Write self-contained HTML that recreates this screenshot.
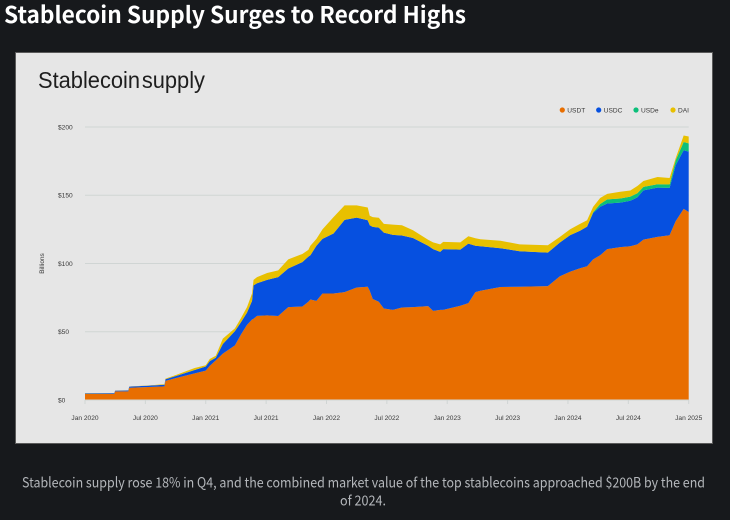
<!DOCTYPE html>
<html lang="en">
<head>
<meta charset="utf-8">
<title>Stablecoin Supply Surges to Record Highs</title>
<style>
html,body{margin:0;padding:0;background:#17191c;width:730px;height:520px;overflow:hidden}
svg{display:block;font-family:"Liberation Sans",sans-serif}
.ui{font-family:"Liberation Sans","Noto Sans CJK JP",sans-serif}
.noto{font-family:"Noto Sans CJK JP","Liberation Sans",sans-serif}
</style>
</head>
<body>
<svg id="root" width="730" height="520" viewBox="0 0 730 520" xmlns="http://www.w3.org/2000/svg">
  <rect x="0" y="0" width="730" height="520" fill="#17191c"/>
  <text class="noto" x="4" y="23" font-size="23" font-weight="700" fill="#ffffff" textLength="462" lengthAdjust="spacingAndGlyphs">Stablecoin Supply Surges to Record Highs</text>
  <rect x="15.5" y="52.5" width="697" height="391" fill="#e6e6e6" stroke="#5a5a5a" stroke-width="1"/>
  <text x="38" y="88" font-size="23" fill="#1e1e1e" style="word-spacing:-4.5px" textLength="167" lengthAdjust="spacingAndGlyphs">Stablecoin supply</text>
  <text transform="translate(44,263.5) rotate(-90)" text-anchor="middle" font-size="6.5" fill="#3a3a3a">Billions</text>
  <g id="grid"></g>
  <g id="areas"></g>
  <g id="axes"></g>
  <g id="legend"></g>
  <text class="noto" x="22" y="487.5" font-size="14" fill="#b4b7bb" textLength="683" lengthAdjust="spacingAndGlyphs">Stablecoin supply rose 18% in Q4, and the combined market value of the top stablecoins approached $200B by the end</text>
  <text class="noto" x="340" y="505.5" font-size="14" fill="#b4b7bb" textLength="46" lengthAdjust="spacingAndGlyphs">of 2024.</text>
</svg>
<script>
// Months since Jan 2020
const months = [0,2.9,3,4.3,4.4,6.6,7.9,8,9,10.9,12,12.4,13,13.7,14.9,15.5,16.1,16.6,16.75,17.1,18.1,19.2,20.2,21.6,22.2,22.4,23,23.6,24.7,25.8,27,28.1,28.3,28.6,29.2,29.7,30.6,31.5,32.6,34.1,34.6,35.3,35.6,37.3,38.1,38.8,39.3,41.3,43.2,46,47.2,48.2,49.2,49.9,50.5,51.2,51.9,53.2,54.2,54.9,55.5,56.9,58.1,58.7,59.5,60];
// Supply per coin, $ billions
const usdt = [4.4,4.4,6.3,6.3,9,9.6,10,14,16,19.5,21.5,25,29,34,40,48,55,59,59.5,61.6,62,61.5,68,68.5,72,73.6,72.6,78,78,79,82.4,83,80,74,72,67,66,67.8,68,68.8,65.3,66,66,69,71,79,80,82.8,83,83.4,90.7,94,96.5,98,103,106,110.5,112,112.6,114,117.5,119.5,120.7,131,140,137.7];
const usdc = [0.4,0.5,0.6,0.7,0.8,1,1.2,1.2,1.5,2.5,3,3.5,2,7,10.5,9,9,13.5,24.5,23.9,26,28.5,28.3,32.5,33,32.4,40.4,40,44,53,51.2,48.7,48,52.8,54.3,55.6,55,52.7,50.7,44.2,45.2,42.5,44.5,41.2,43.6,34,32.6,28.4,26,24.6,24.7,26.7,27.5,29,34,35.6,33.5,32.6,33.4,34.5,36.1,36.1,34.7,41,43,44.3];
const usde = [0,0,0,0,0,0,0,0,0,0,0,0,0,0,0,0,0,0,0,0,0,0,0,0,0,0,0,0,0,0,0,0,0,0,0,0,0,0,0,0,0,0,0,0,0,0,0,0,0,0,0,0,0,0,0.5,2,3,3,3,3,2.5,2.5,2.5,3.5,6,6];
const dai = [0.1,0.1,0.1,0.1,0.1,0.2,0.4,0.5,0.7,1.4,1,1.5,1.4,4,2,3,4,5.5,4,4.5,5,5,6.7,6,5,7,5,7,12,10.6,9,9.3,7,7.2,7.2,6.4,7.5,7.5,5.7,4.4,5,5.5,5.3,5.3,5.4,5.5,5.2,5.5,5,5.4,4.1,4.3,5,4.7,4,4.4,4,5,4.5,5.3,4.3,5.3,4.7,1.5,4.8,5];
const seriesNames = ["USDT","USDC","USDe","DAI"];
const seriesColors = ["#e86e00","#0650e0","#0cbf7a","#e8c000"];
const yTicks = [0,50,100,150,200];
const yTickLabels = ["$0","$50","$100","$150","$200"];
const xTicks = [0,6,12,18,24,30,36,42,48,54,60];
const xTickLabels = ["Jan 2020","Jul 2020","Jan 2021","Jul 2021","Jan 2022","Jul 2022","Jan 2023","Jul 2023","Jan 2024","Jul 2024","Jan 2025"];

const NS = "http://www.w3.org/2000/svg";
const xScale = m => 85 + m * (688.7 - 85) / 60;
const yScale = v => 400 - v * (400 - 127) / 200;
function make(tag, parent, attrs) {
  const el = document.createElementNS(NS, tag);
  for (const k in attrs) el.setAttribute(k, attrs[k]);
  parent.appendChild(el);
  return el;
}

const grid = document.getElementById("grid");
yTicks.forEach((t, i) => {
  if (t > 0) {
    const line = make("line", grid, {x1: xScale(0), x2: xScale(60), y1: yScale(t), y2: yScale(t), stroke: "#d0d5d4", "stroke-width": 1});
    
    
  }
});

const areas = document.getElementById("areas");
const allSeries = [usdt, usdc, usde, dai];
let base = months.map(() => 0);
allSeries.forEach((vals, s) => {
  const top = vals.map((v, i) => base[i] + v);
  let d = "";
  months.forEach((m, i) => { d += (i ? "L" : "M") + xScale(m).toFixed(2) + " " + yScale(top[i]).toFixed(2); });
  for (let i = months.length - 1; i >= 0; i--) { d += "L" + xScale(months[i]).toFixed(2) + " " + yScale(base[i]).toFixed(2); }
  const p = make("path", areas, {d: d + "Z", fill: seriesColors[s]});
  
  
  base = top;
});

const axes = document.getElementById("axes");
const baseline = make("line", axes, {x1: xScale(0), x2: xScale(60), y1: yScale(0), y2: yScale(0), stroke: "#d0d5d4", "stroke-width": 1});


yTicks.forEach((t, i) => {
  const lab = make("text", axes, {x: 58, y: yScale(t) + 2.4, "font-size": 6.6, fill: "#3a3a3a"});
  lab.textContent = yTickLabels[i];
  
  
});
xTicks.forEach((t, i) => {
  const tick = make("line", axes, {x1: xScale(t), x2: xScale(t), y1: 400, y2: 404, stroke: "#d0d5d4", "stroke-width": 1});
  
  
  const lab = make("text", axes, {x: xScale(t), y: 420, "text-anchor": "middle", "font-size": 6.6, fill: "#3a3a3a"});
  lab.textContent = xTickLabels[i];
  
  
});

const legend = document.getElementById("legend");
const legendDotX = [562.3, 598.7, 636, 673];
seriesNames.forEach((n, i) => {
  const g = make("g", legend, {});
  
  
  make("circle", g, {cx: legendDotX[i], cy: 110, r: 2.6, fill: seriesColors[i]});
  const t = make("text", g, {x: legendDotX[i] + 5, y: 112.3, "font-size": 6.6, fill: "#3a3a3a"});
  t.textContent = n;
});
</script>
</body>
</html>
